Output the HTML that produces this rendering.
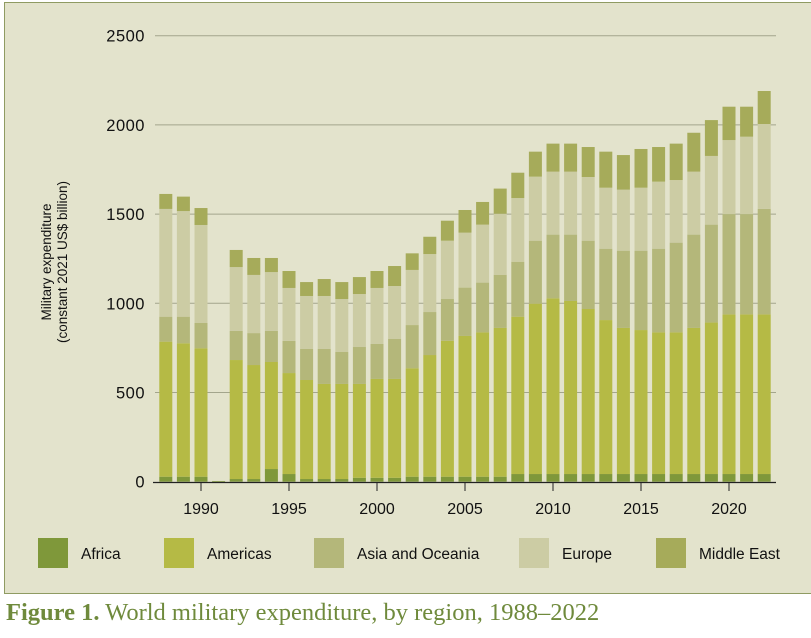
<!DOCTYPE html>
<html><head><meta charset="utf-8"><style>
body{margin:0;width:811px;height:638px;background:#fff;overflow:hidden;font-family:"Liberation Sans",sans-serif}
#panel{position:absolute;left:4px;top:2px;width:812px;height:592px;background:#e3e3cc;border:1.5px solid #8f9b62;box-sizing:border-box}
#cap{position:absolute;left:6px;top:599px;font-family:"Liberation Serif",serif;font-size:24.5px;color:#6f8a3c;white-space:nowrap}
#cap b{font-weight:bold}
</style></head><body>
<div id="panel"></div>
<svg id="chart" width="811" height="638" style="position:absolute;left:0;top:0"></svg>
<div id="cap"><b>Figure 1.</b> World military expenditure, by region, 1988–2022</div>
<script>
const years=[1988,1989,1990,1991,1992,1993,1994,1995,1996,1997,1998,1999,2000,2001,2002,2003,2004,2005,2006,2007,2008,2009,2010,2011,2012,2013,2014,2015,2016,2017,2018,2019,2020,2021,2022];
const africa=[28,28,28,4,15,15,71,43,15,15,15,22,22,22,28,28,28,28,28,28,43,43,43,43,43,43,43,43,43,43,43,43,43,43,43];
const americas=[757,748,720,0,667,639,600,566,555,533,533,526,554,554,608,682,762,789,809,834,882,955,985,970,925,863,819,807,794,794,819,849,895,895,895];
const asia=[140,149,143,0,163,179,174,180,174,196,179,207,196,224,242,241,234,271,279,298,308,353,357,372,383,400,433,445,469,503,523,549,562,562,591];
const europe=[604,592,548,0,358,326,330,297,297,297,297,297,314,297,309,325,327,308,325,342,357,359,353,353,357,342,342,353,376,351,353,385,415,434,476];
const mideast=[84,81,95,0,96,95,79,95,78,95,95,95,95,112,93,97,112,127,127,141,142,140,157,157,168,202,194,217,194,204,218,201,187,168,185];
const yTicks=[0,500,1000,1500,2000,2500];
const xTicks=[1990,1995,2000,2005,2010,2015,2020];
const seriesNames=["Africa","Americas","Asia and Oceania","Europe","Middle East"];
const series=[africa,americas,asia,europe,mideast];
const colors=["#7f983a","#b5ba45","#b4b77a","#cccca4","#a6ab5a"];
const NS="http://www.w3.org/2000/svg";
const svg=document.getElementById('chart');
const y=v=>481.7-v*0.1784;
const x=yr=>165.8+(yr-1988)*17.6;
const bw=13;
function mk(t,a,p){const e=document.createElementNS(NS,t);for(const k in a)e.setAttribute(k,a[k]);(p||svg).appendChild(e);return e;}
yTicks.forEach(t=>{
  if(t>0){const g=mk('line',{x1:155,x2:776,y1:y(t),y2:y(t),stroke:'#a3a58c','stroke-width':1});
  
  }
  const l=mk('text',{x:145,y:y(t)+6,'text-anchor':'end','font-size':16.5,fill:'#111','letter-spacing':'0.5'});
  l.textContent=t;
  
  
});
years.forEach((yr,i)=>{
  let base=0;
  series.forEach((s,j)=>{
    const v=s[i];if(v<=0)return;
    const r=mk('rect',{x:x(yr)-bw/2,y:y(base+v),width:bw,height:y(base)-y(base+v),fill:colors[j]});
    
    
    base+=v;
  });
});
const ax=mk('line',{x1:153,x2:776,y1:482.5,y2:482.5,stroke:'#222','stroke-width':1.3});


xTicks.forEach(t=>{
  const tk=mk('line',{x1:x(t),x2:x(t),y1:482,y2:491,stroke:'#222','stroke-width':1});
  
  
  const l=mk('text',{x:x(t),y:514,'text-anchor':'middle','font-size':16,fill:'#111'});
  l.textContent=t;
  
  
});
const yt=mk('text',{transform:'translate(51,262) rotate(-90)','text-anchor':'middle','font-size':13.5,fill:'#111'});


const t1=mk('tspan',{x:0,dy:0},yt);t1.textContent='Military expenditure';
const t2=mk('tspan',{x:0,dy:16},yt);t2.textContent='(constant 2021 US$ billion)';
const legX=[38,164,314,519,656];
seriesNames.forEach((n,j)=>{
  const r=mk('rect',{x:legX[j],y:538,width:30,height:30,fill:colors[j]});
  
  
  const l=mk('text',{x:legX[j]+43,y:559,'font-size':15.5,fill:'#111'});
  l.textContent=n;
  
  
});
</script>
</body></html>
